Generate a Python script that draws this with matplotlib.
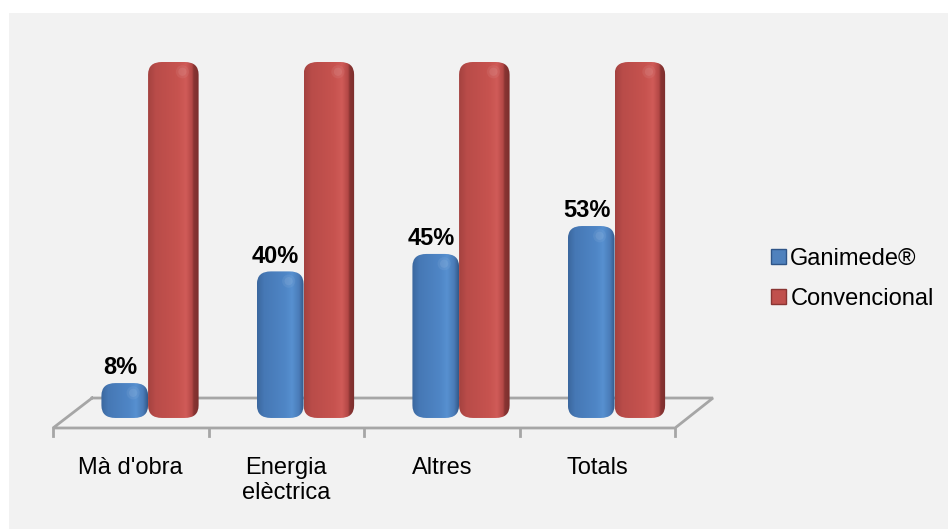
import matplotlib
matplotlib.use("Agg")
import matplotlib.pyplot as plt
import numpy as np
from matplotlib.patches import FancyBboxPatch, Rectangle, Patch
from matplotlib.colors import LinearSegmentedColormap

plt.rcParams['font.family'] = ['Liberation Sans', 'DejaVu Sans']

# dades
categories = ["Mà d'obra", "Energia\nelèctrica", "Altres", "Totals"]
ganimede = [8, 40, 45, 53]
convencional = [100, 100, 100, 100]
series_names = ["Ganimede®", "Convencional"]

# colors
blue = '#4f81bd'
red = '#c0504d'
cmap_blue = LinearSegmentedColormap.from_list('b', [
    (0.0, '#3b679e'), (0.15, '#4678b5'), (0.6, '#4f86c6'),
    (0.75, '#5790d0'), (0.9, '#4a7cb8'), (1.0, '#33598a')])
cmap_red = LinearSegmentedColormap.from_list('r', [
    (0.0, '#a44240'), (0.15, '#b94c49'), (0.6, '#c7534f'),
    (0.75, '#d05b58'), (0.87, '#b24745'), (0.9, '#8a3533'), (1.0, '#7a2e2d')])

fig = plt.figure(figsize=(9.48, 5.29), dpi=100)
fig.patch.set_facecolor('white')
# fons gris
fig.patches.append(Rectangle((9 / 948, 0), 1, 1 - 13 / 529, transform=fig.transFigure,
                             facecolor='#f2f2f2', edgecolor='none', zorder=-10))

ax = fig.add_axes([40 / 948, 0.1571, 680 / 948, 0.7917])
ax.set_facecolor('none')
ax.set_xlim(-0.695, 3.678)
ax.set_ylim(-10, 110)
ax.axis('off')

bw_b = 0.30   # amplada barra blava
bw_r = 0.325  # amplada barra vermella
base = -2     # fons del cilindre
x = np.arange(len(categories))

# terra
back_l, back_r, front_l, front_r = -0.36, 3.633, -0.611, 3.389
y_back, y_front = 3.72, -4.87
floor_col = '#a6a6a6'
ax.plot([back_l, back_r, front_r, front_l, back_l],
        [y_back, y_back, y_front, y_front, y_back], color=floor_col, lw=2, zorder=1,
        solid_joinstyle='miter')
for i in range(len(categories) + 1):
    ax.plot([front_l + i, front_l + i], [y_front, -7.2], color=floor_col, lw=2, zorder=1)


def cylinder(x0, w, h, cmap, z):
    p = FancyBboxPatch((x0, base), w, h - base,
                       boxstyle="round,pad=0,rounding_size=0.09",
                       mutation_aspect=40, facecolor='none', edgecolor='none', zorder=z)
    ax.add_patch(p)
    grad = np.linspace(0, 1, 200).reshape(1, -1)
    im = ax.imshow(grad, cmap=cmap, extent=(x0, x0 + w, base, h), aspect='auto',
                   zorder=z, interpolation='bilinear')
    im.set_clip_path(p)
    # petit reflex a la tapa
    for s, a in [(90, 0.06), (35, 0.08)]:
        hl = ax.scatter([x0 + w * 0.68], [h - 2.8], s=s, color='white', alpha=a,
                        zorder=z + 0.1, edgecolors='none')
        hl.set_clip_path(p)


for i in x:
    cylinder(i - bw_b, bw_b, ganimede[i], cmap_blue, 3)
    cylinder(i, bw_r, convencional[i], cmap_red, 4)
    ax.text(i - bw_b / 2 - 0.03, ganimede[i] + 2.5, f"{ganimede[i]}%", ha='center',
            va='baseline', fontsize=17, fontweight='bold', color='black', zorder=6)
    ax.text(i - 0.111, -13.2, categories[i], ha='center', va='top', fontsize=17,
            linespacing=1.15, clip_on=False)

ax.set_xlim(-0.695, 3.678)
ax.set_ylim(-10, 110)

handles = [Patch(facecolor=blue, edgecolor='#2f5588'), Patch(facecolor=red, edgecolor='#8a3533')]
fig.legend(handles, series_names, loc='upper left', bbox_to_anchor=(771 / 948, 1 - 248 / 529),
           frameon=False, fontsize=17, handlelength=0.62, handleheight=0.62,
           handletextpad=0.2, labelspacing=0.75, borderpad=0, borderaxespad=0)

fig.savefig('out.png', dpi=100)
